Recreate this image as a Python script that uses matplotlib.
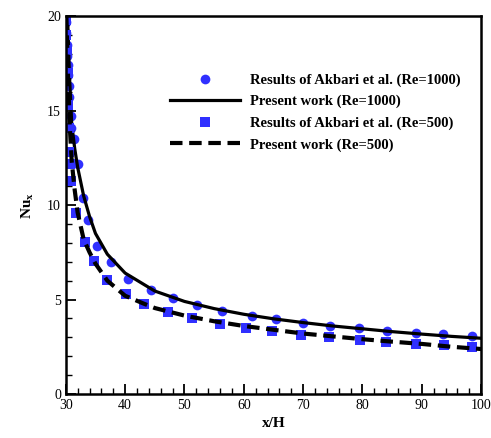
import matplotlib.pyplot as plt
from matplotlib.ticker import MultipleLocator

plt.rcParams['font.family'] = ['Liberation Serif', 'DejaVu Serif']
plt.rcParams['mathtext.fontset'] = 'custom'
plt.rcParams['mathtext.rm'] = 'Liberation Serif'
plt.rcParams['mathtext.bf'] = 'Liberation Serif:bold'

# Akbari et al., Re=1000
akb1000_x = [30.05, 30.1, 30.15, 30.2, 30.3, 30.4, 30.5, 30.6, 30.8, 30.9, 31.4, 32.0,
             32.9, 33.8, 35.3, 37.6, 40.5, 44.3, 48.0, 52.1, 56.4, 61.3, 65.5, 70.0,
             74.5, 79.4, 84.2, 89.0, 93.6, 98.5]
akb1000_y = [19.7, 19.1, 18.5, 17.9, 17.4, 16.9, 16.3, 15.7, 14.7, 14.1, 13.5, 12.2,
             10.4, 9.2, 7.85, 7.0, 6.1, 5.5, 5.06, 4.7, 4.39, 4.13, 3.95, 3.77,
             3.6, 3.47, 3.35, 3.24, 3.15, 3.07]

# Akbari et al., Re=500
akb500_x = [30.0, 30.1, 30.2, 30.3, 30.4, 30.5, 30.6, 30.7, 30.8, 31.8, 33.2, 34.8,
            37.0, 40.1, 43.2, 47.3, 51.3, 56.0, 60.4, 64.7, 69.6, 74.4, 79.5, 84.0,
            89.0, 93.8, 98.5]
akb500_y = [19.8, 19.0, 18.2, 17.0, 15.3, 14.1, 12.8, 12.2, 11.3, 9.56, 8.06, 7.04,
            6.03, 5.27, 4.76, 4.36, 4.04, 3.70, 3.51, 3.33, 3.12, 3.03, 2.86, 2.73,
            2.62, 2.58, 2.50]

# present work
pw1000_x = [30.3, 30.6, 31.0, 31.5, 32.0, 33.0, 34.0, 35.0, 37.0, 40.0, 45.0, 50.0,
            55.0, 60.0, 65.0, 70.0, 75.0, 80.0, 85.0, 90.0, 95.0, 100.0]
pw1000_y = [20.0, 17.0, 14.3, 13.0, 12.0, 10.5, 9.4, 8.5, 7.4, 6.4, 5.45, 4.9,
            4.52, 4.22, 3.98, 3.78, 3.6, 3.45, 3.3, 3.17, 3.05, 2.95]

pw500_x = [30.1, 30.4, 30.7, 31.0, 31.5, 32.0, 33.0, 34.0, 35.0, 37.0, 40.0, 43.0,
           45.0, 50.0, 55.0, 60.0, 65.0, 70.0, 75.0, 80.0, 85.0, 90.0, 95.0, 100.0]
pw500_y = [20.0, 16.5, 14.0, 12.3, 10.8, 9.6, 8.2, 7.5, 6.9, 6.0, 5.2, 4.8,
           4.55, 4.15, 3.85, 3.6, 3.4, 3.2, 3.05, 2.9, 2.77, 2.65, 2.5, 2.38]

blue = '#3030ff'

fig = plt.figure(figsize=(4.91, 4.38), dpi=100)
ax = fig.add_axes([0.134, 0.1005, 0.846, 0.8625])

ax.plot(akb1000_x, akb1000_y, 'o', color=blue, markersize=7, markeredgewidth=0,
        label='Results of Akbari et al. (Re=1000)')
ax.plot(pw1000_x, pw1000_y, '-', color='black', linewidth=2.3,
        label='Present work (Re=1000)')
ax.plot(akb500_x, akb500_y, 's', color=blue, markersize=6.5, markeredgewidth=0,
        label='Results of Akbari et al. (Re=500)')
ax.plot(pw500_x, pw500_y, '--', color='black', linewidth=3, dashes=(3, 1.6),
        label='Present work (Re=500)')

ax.set_xlim(30, 100)
ax.set_ylim(0, 20)
ax.xaxis.set_major_locator(MultipleLocator(10))
ax.xaxis.set_minor_locator(MultipleLocator(2))
ax.yaxis.set_major_locator(MultipleLocator(5))
ax.yaxis.set_minor_locator(MultipleLocator(1))
ax.tick_params(which='both', direction='in', top=False, right=False, labelsize=10)
ax.tick_params(which='major', length=7, width=1.3)
ax.tick_params(which='minor', length=4, width=1.0)
for s in ax.spines.values():
    s.set_linewidth(1.8)

ax.set_xlabel('x/H', fontsize=11, fontweight='bold', labelpad=4)
ax.set_ylabel(r'$\mathbf{Nu_x}$', fontsize=11, labelpad=8)

ax.legend(loc='center left', bbox_to_anchor=(0.219, 0.745), frameon=False,
          prop={'weight': 'bold', 'size': 10.5}, handlelength=4.8,
          handletextpad=0.7, labelspacing=0.56)

fig.savefig('out.png', dpi=100)
